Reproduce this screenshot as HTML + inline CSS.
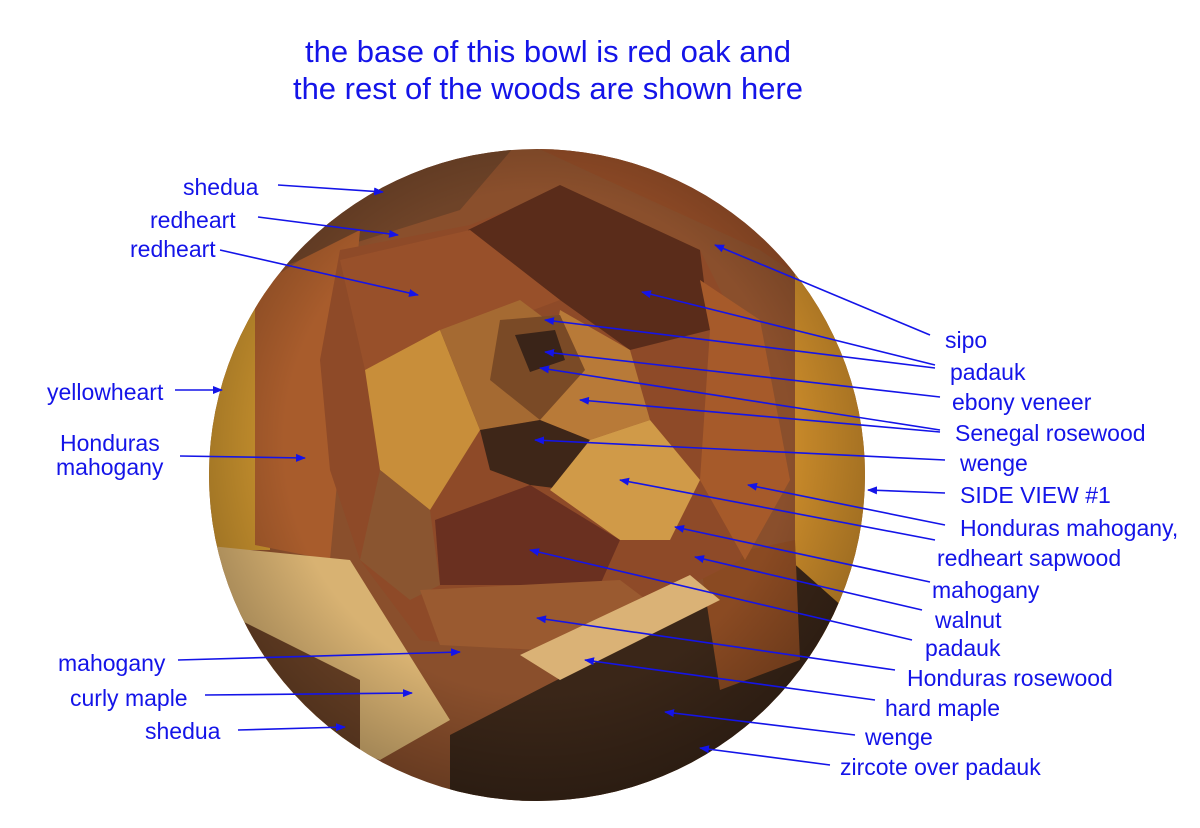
<!DOCTYPE html>
<html><head><meta charset="utf-8"><style>
html,body{margin:0;padding:0;background:#fff;}
svg{display:block;}
text{font-family:"Liberation Sans",sans-serif;fill:#1414e8;}
</style></head><body>
<svg width="1200" height="828" viewBox="0 0 1200 828" xmlns="http://www.w3.org/2000/svg">
<defs>
<marker id="a" markerWidth="10" markerHeight="8" refX="9" refY="4" orient="auto" markerUnits="userSpaceOnUse">
<path d="M0,0 L10,4 L0,8 Z" fill="#1414e8"/></marker>
<clipPath id="bowl"><ellipse cx="537" cy="475" rx="328" ry="326"/></clipPath>
<radialGradient id="shade" cx="50%" cy="45%" r="55%">
<stop offset="70%" stop-color="#000" stop-opacity="0"/><stop offset="100%" stop-color="#000" stop-opacity="0.25"/></radialGradient>
</defs>
<text x="548" y="62" font-size="31" text-anchor="middle">the base of this bowl is red oak and</text>
<text x="548" y="99" font-size="31" text-anchor="middle">the rest of the woods are shown here</text>
<g clip-path="url(#bowl)">
<rect x="200" y="140" width="680" height="680" fill="#8a4f2c"/>
<polygon points="200,140 520,140 460,210 300,260 200,300" fill="#6e4328"/>
<polygon points="520,140 880,140 880,330 760,250 650,200" fill="#8e4a26"/>
<rect x="205" y="280" width="65" height="270" fill="#c9922e"/>
<rect x="795" y="270" width="70" height="380" fill="#c98a2a"/>
<polygon points="255,290 300,260 360,230 330,560 255,545" fill="#a85c2c"/>
<polygon points="200,545 350,560 450,720 380,760 200,700" fill="#d8b272"/>
<polygon points="200,600 360,680 360,820 200,820" fill="#6b4226"/>
<polygon points="450,735 790,560 880,640 880,820 450,820" fill="#3a2618"/>
<polygon points="700,560 795,540 800,660 720,690" fill="#8a4a22"/>
</g>
<ellipse cx="537" cy="475" rx="328" ry="326" fill="url(#shade)"/>
<polygon points="340,250 470,225 560,190 700,250 740,330 780,480 740,560 640,610 520,650 420,640 360,560 330,470 320,360" fill="#8e4a28"/>
<polygon points="468,230 560,185 700,250 710,330 630,350 560,300" fill="#5a2c1a"/>
<polygon points="340,260 470,230 560,300 480,330 440,330 365,370" fill="#98502a"/>
<polygon points="365,370 440,330 480,430 430,510 380,470" fill="#c88e3a"/>
<polygon points="440,330 520,300 560,330 540,420 480,430" fill="#a56a32"/>
<polygon points="560,310 630,350 650,420 590,440 540,420" fill="#b87a38"/>
<polygon points="500,320 560,315 585,370 540,420 490,380" fill="#7a4a26"/>
<polygon points="515,335 555,330 565,360 530,372" fill="#3a2418"/>
<polygon points="480,430 540,420 590,440 570,490 530,485 490,470" fill="#3e2618"/>
<polygon points="550,490 590,440 650,420 700,480 670,540 620,540" fill="#d09a48"/>
<polygon points="435,520 530,485 620,540 600,585 440,585" fill="#6a3020"/>
<polygon points="380,470 430,510 440,585 410,600 360,560" fill="#8a5530"/>
<polygon points="420,590 620,580 660,610 540,650 440,645" fill="#9a5a30"/>
<polygon points="520,655 690,575 720,600 560,680" fill="#dab276"/>
<polygon points="700,280 760,320 790,480 745,560 700,480 710,330" fill="#a65a2a"/>
<g stroke="#1414e8" stroke-width="1.6" fill="none" marker-end="url(#a)">
<line x1="278" y1="185" x2="383" y2="192"/>
<line x1="258" y1="217" x2="398" y2="235"/>
<line x1="220" y1="250" x2="418" y2="295"/>
<line x1="175" y1="390" x2="222" y2="390"/>
<line x1="180" y1="456" x2="305" y2="458"/>
<line x1="178" y1="660" x2="460" y2="652"/>
<line x1="205" y1="695" x2="412" y2="693"/>
<line x1="238" y1="730" x2="345" y2="727"/>
<line x1="930" y1="335" x2="715" y2="245"/>
<line x1="935" y1="365" x2="642" y2="292"/>
<line x1="935" y1="368" x2="545" y2="320"/>
<line x1="940" y1="397" x2="545" y2="352"/>
<line x1="940" y1="430" x2="540" y2="368"/>
<line x1="940" y1="432" x2="580" y2="400"/>
<line x1="945" y1="460" x2="535" y2="440"/>
<line x1="945" y1="493" x2="868" y2="490"/>
<line x1="945" y1="525" x2="748" y2="485"/>
<line x1="935" y1="540" x2="620" y2="480"/>
<line x1="930" y1="582" x2="675" y2="527"/>
<line x1="922" y1="610" x2="695" y2="557"/>
<line x1="912" y1="640" x2="530" y2="550"/>
<line x1="895" y1="670" x2="537" y2="618"/>
<line x1="875" y1="700" x2="585" y2="660"/>
<line x1="855" y1="735" x2="665" y2="712"/>
<line x1="830" y1="765" x2="700" y2="748"/>
</g>
<g font-size="23">
<text x="183" y="195">shedua</text>
<text x="150" y="228">redheart</text>
<text x="130" y="257">redheart</text>
<text x="47" y="400">yellowheart</text>
<text x="60" y="451">Honduras</text>
<text x="56" y="475">mahogany</text>
<text x="58" y="671">mahogany</text>
<text x="70" y="706">curly maple</text>
<text x="145" y="739">shedua</text>
<text x="945" y="348">sipo</text>
<text x="950" y="380">padauk</text>
<text x="952" y="410">ebony veneer</text>
<text x="955" y="441">Senegal rosewood</text>
<text x="960" y="471">wenge</text>
<text x="960" y="503">SIDE VIEW #1</text>
<text x="960" y="536">Honduras mahogany,</text>
<text x="937" y="566">redheart sapwood</text>
<text x="932" y="598">mahogany</text>
<text x="935" y="628">walnut</text>
<text x="925" y="656">padauk</text>
<text x="907" y="686">Honduras rosewood</text>
<text x="885" y="716">hard maple</text>
<text x="865" y="745">wenge</text>
<text x="840" y="775">zircote over padauk</text>
</g>
</svg>
</body></html>
